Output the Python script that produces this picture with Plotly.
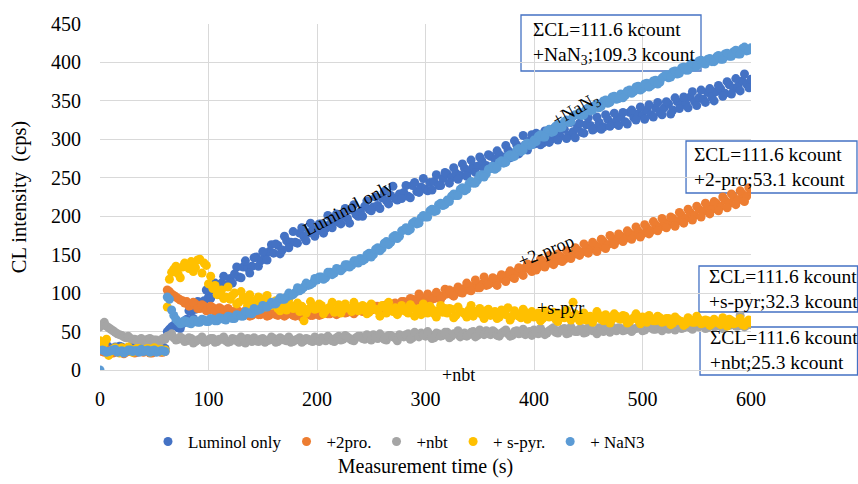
import plotly.graph_objects as go

# sample times (s): main grid and the interleaved grid
times = list(range(0, 601, 4))
times_b = list(range(2, 600, 4))

luminol = [
    31, 28, 30, 27, 29, 30, 27, 28, 30, 26,
    29, 28, 27, 29, 28, 28, 53, 58, 55, 60,
    66, 76, 79, 88, 90, 95, 104, 104, 113, 111,
    119, 125, 121, 134, 133, 135, 147, 142, 149, 154,
    152, 162, 156, 168, 166, 166, 178, 173, 178, 183,
    181, 190, 184, 190, 194, 192, 200, 197, 208, 202,
    206, 213, 209, 212, 214, 224, 220, 227, 223, 229,
    231, 226, 240, 232, 238, 235, 244, 245, 240, 249,
    255, 250, 256, 253, 262, 259, 265, 265, 272, 266,
    278, 274, 280, 277, 286, 282, 293, 286, 293, 298,
    294, 302, 295, 305, 300, 308, 304, 313, 305, 310,
    315, 309, 319, 318, 314, 322, 316, 326, 320, 325,
    329, 323, 335, 328, 333, 331, 338, 332, 341, 335,
    341, 346, 338, 349, 345, 346, 355, 349, 354, 352,
    361, 355, 362, 366, 360, 371, 366, 369, 376, 372,
    378,
]
luminol_b = [
    29, 33, 27, 30, 31, 26, 29, 32, 27, 30,
    27, 30, 28, 26, 30, 50, 56, 61, 54, 64,
    77, 67, 89, 81, 104, 93, 113, 98, 122, 109,
    113, 134, 120, 142, 126, 146, 135, 154, 143, 163,
    164, 151, 174, 159, 180, 165, 185, 168, 191, 174,
    190, 178, 201, 185, 203, 190, 210, 191, 215, 200,
    200, 220, 207, 225, 210, 232, 216, 239, 221, 223,
    240, 224, 244, 231, 249, 233, 234, 254, 240, 257,
    243, 263, 248, 268, 252, 273, 257, 277, 262, 280,
    265, 285, 273, 292, 276, 298, 281, 305, 286, 306,
    308, 293, 311, 296, 314, 299, 317, 301, 322, 302,
    321, 308, 328, 312, 329, 313, 332, 317, 334, 318,
    335, 320, 338, 325, 342, 326, 345, 329, 348, 332,
    349, 333, 354, 340, 355, 341, 362, 344, 364, 348,
    366, 350, 370, 356, 375, 359, 379, 363, 385, 367,
]

prop2 = [
    26, 23, 25, 22, 24, 25, 23, 24, 22, 25,
    23, 24, 22, 25, 23, 24, 102, 97, 93, 90,
    89, 84, 86, 80, 83, 78, 81, 76, 79, 75,
    77, 73, 76, 72, 76, 71, 74, 72, 75, 71,
    74, 71, 75, 72, 73, 70, 75, 72, 74, 71,
    74, 72, 76, 73, 75, 74, 77, 75, 78, 76,
    79, 77, 81, 80, 83, 81, 85, 83, 87, 86,
    89, 88, 92, 90, 94, 92, 95, 93, 97, 96,
    99, 98, 103, 101, 106, 104, 109, 107, 112, 110,
    115, 113, 119, 118, 124, 121, 128, 126, 133, 131,
    137, 134, 141, 138, 145, 141, 148, 144, 152, 150,
    156, 153, 160, 157, 163, 160, 167, 163, 171, 168,
    174, 171, 178, 175, 181, 177, 185, 181, 189, 186,
    192, 189, 197, 193, 201, 197, 205, 201, 209, 206,
    213, 209, 217, 213, 221, 217, 225, 221, 229, 226,
    232,
]
prop2_b = [
    24, 27, 22, 25, 26, 21, 24, 26, 23, 25,
    25, 22, 24, 26, 23, 104, 99, 95, 91, 87,
    83, 88, 80, 85, 77, 83, 76, 81, 74, 80,
    73, 78, 71, 77, 70, 76, 72, 75, 70, 76,
    72, 76, 70, 75, 71, 74, 69, 76, 71, 75,
    71, 75, 73, 77, 72, 76, 74, 78, 73, 79,
    76, 80, 78, 83, 79, 84, 82, 86, 84, 89,
    83, 93, 86, 99, 88, 99, 92, 101, 92, 105,
    104, 96, 108, 100, 113, 103, 117, 107, 121, 111,
    120, 110, 124, 115, 129, 119, 133, 123, 138, 128,
    130, 144, 134, 149, 137, 151, 141, 155, 145, 159,
    149, 164, 152, 166, 154, 170, 158, 175, 163, 177,
    167, 181, 170, 186, 173, 189, 177, 193, 181, 197,
    185, 199, 187, 205, 191, 209, 195, 213, 199, 217,
    203, 219, 207, 225, 211, 229, 215, 233, 219, 237,
]

nbt = [
    56, 62, 55, 51, 47, 45, 42, 41, 40, 39,
    38, 40, 37, 39, 38, 40, 45, 42, 40, 41,
    38, 41, 37, 40, 36, 39, 41, 37, 40, 38,
    37, 40, 36, 39, 41, 37, 38, 40, 36, 39,
    41, 37, 40, 38, 36, 39, 42, 38, 40, 37,
    39, 42, 38, 41, 37, 44, 40, 43, 39, 42,
    44, 40, 43, 46, 41, 44, 39, 45, 42, 46,
    43, 47, 42, 45, 48, 44, 46, 42, 47, 45,
    49, 44, 47, 43, 48, 46, 50, 45, 48, 51,
    46, 49, 44, 50, 47, 45, 51, 48, 46, 50,
    52, 47, 50, 48, 53, 49, 51, 54, 48, 52,
    50, 54, 49, 53, 51, 55, 50, 52, 56, 51,
    54, 52, 57, 53, 55, 51, 56, 58, 53, 55,
    57, 53, 56, 59, 54, 57, 55, 60, 56, 58,
    55, 59, 57, 61, 56, 58, 62, 57, 60, 58,
    59,
]
nbt_b = [
    59, 57, 53, 49, 46, 43, 44, 40, 38, 41,
    36, 41, 39, 36, 41, 44, 47, 39, 43, 37,
    42, 35, 39, 43, 37, 41, 36, 40, 43, 36,
    41, 38, 43, 35, 40, 42, 37, 41, 38, 43,
    36, 42, 39, 43, 37, 40, 36, 41, 38, 43,
    37, 40, 44, 38, 42, 39, 45, 41, 38, 44,
    41, 46, 39, 42, 47, 40, 45, 43, 38, 44,
    46, 40, 49, 43, 46, 50, 41, 48, 44, 49,
    42, 47, 51, 45, 44, 49, 43, 52, 46, 47,
    51, 45, 48, 52, 44, 50, 47, 53, 49, 45,
    49, 54, 46, 51, 55, 48, 53, 47, 56, 50,
    53, 48, 55, 51, 47, 54, 57, 49, 53, 55,
    51, 56, 50, 54, 59, 52, 55, 53, 57, 51,
    54, 58, 52, 56, 55, 61, 53, 57, 59, 54,
    58, 56, 60, 54, 64, 59, 57, 71, 56, 61,
]

spyr = [
    38, 35, 19, 27, 25, 29, 24, 27, 26, 28,
    25, 28, 26, 24, 27, 26, 118, 131, 125, 134,
    137, 141, 133, 144, 139, 112, 106, 98, 104, 95,
    92, 100, 88, 95, 84, 90, 86, 93, 82, 88,
    85, 80, 88, 78, 84, 81, 76, 64, 79, 83,
    80, 84, 77, 82, 75, 85, 79, 81, 76, 83,
    78, 82, 75, 80, 77, 84, 74, 79, 81, 76,
    79, 74, 81, 76, 72, 78, 83, 73, 77, 75,
    74, 79, 71, 76, 73, 78, 70, 75, 72, 77,
    71, 76, 69, 74, 81, 70, 73, 68, 75, 71,
    69, 74, 67, 72, 70, 66, 73, 68, 71, 88,
    68, 72, 65, 70, 67, 71, 64, 69, 66, 70,
    66, 70, 63, 68, 65, 69, 62, 67, 64, 68,
    63, 67, 61, 66, 63, 60, 65, 62, 66, 61,
    64, 60, 63, 59, 62, 66, 60, 63, 59, 62,
    61,
]
spyr_b = [
    33, 40, 24, 29, 22, 26, 30, 23, 28, 25,
    27, 23, 29, 26, 24, 82, 127, 135, 120, 139,
    132, 128, 143, 126, 136, 122, 110, 102, 93, 108,
    97, 86, 102, 91, 98, 82, 95, 88, 97, 84,
    90, 77, 86, 92, 80, 87, 83, 74, 89, 79,
    86, 73, 80, 88, 78, 74, 86, 80, 88, 77,
    84, 73, 86, 79, 70, 82, 88, 76, 72, 84,
    76, 85, 70, 80, 86, 74, 79, 69, 84, 80,
    80, 68, 82, 75, 69, 84, 76, 80, 67, 79,
    74, 67, 78, 72, 65, 77, 70, 79, 66, 76,
    72, 64, 77, 69, 75, 63, 71, 78, 65, 73,
    64, 74, 69, 62, 76, 66, 72, 61, 73, 67,
    71, 61, 66, 73, 60, 67, 71, 64, 70, 62,
    67, 59, 69, 64, 58, 68, 62, 70, 60, 65,
    58, 66, 61, 68, 57, 64, 61, 67, 58, 65,
]

nan3 = [
    0, 25, 24, 26, 23, 25, 24, 26, 25, 23,
    24, 26, 25, 23, 25, 24, 92, 71, 63, 61,
    63, 60, 64, 62, 65, 63, 66, 64, 67, 65,
    69, 67, 71, 70, 74, 73, 77, 79, 82, 84,
    86, 90, 92, 95, 97, 101, 103, 108, 110, 113,
    117, 121, 120, 127, 126, 131, 132, 137, 136, 142,
    145, 144, 152, 150, 159, 158, 167, 166, 175, 174,
    182, 181, 191, 190, 198, 199, 207, 206, 215, 214,
    221, 226, 227, 235, 233, 242, 243, 247, 254, 255,
    262, 261, 270, 269, 278, 277, 286, 284, 293, 292,
    299, 304, 303, 311, 309, 317, 315, 323, 322, 330,
    332, 331, 339, 337, 344, 341, 350, 347, 355, 352,
    359, 357, 364, 362, 369, 366, 373, 370, 377, 374,
    382, 380, 388, 385, 393, 390, 397, 394, 402, 399,
    404, 401, 407, 404, 411, 408, 414, 411, 418, 415,
    419,
]
nan3_b = [
    26, 23, 25, 27, 24, 22, 26, 24, 25, 27,
    25, 23, 26, 24, 25, 95, 78, 66, 60, 64,
    61, 65, 62, 66, 63, 67, 64, 68, 66, 70,
    67, 72, 70, 76, 74, 80, 78, 84, 82, 88,
    86, 94, 92, 100, 98, 107, 105, 113, 111, 119,
    121, 118, 127, 124, 132, 129, 137, 134, 142, 139,
    142, 150, 147, 157, 155, 165, 163, 173, 171, 181,
    185, 183, 193, 191, 201, 199, 209, 207, 217, 215,
    219, 229, 227, 237, 235, 245, 243, 253, 251, 261,
    265, 263, 272, 270, 280, 278, 288, 286, 295, 293,
    297, 306, 303, 313, 310, 319, 316, 325, 323, 332,
    335, 332, 341, 338, 346, 343, 351, 348, 356, 353,
    354, 363, 360, 368, 364, 372, 368, 376, 372, 380,
    384, 381, 389, 386, 394, 390, 399, 395, 403, 398,
    405, 401, 409, 404, 412, 408, 416, 411, 420, 416,
]

series_names = ["Luminol only", "+2pro.", "+nbt", "+ s-pyr.", "+ NaN3"]
series_a = [luminol, prop2, nbt, spyr, nan3]
series_b = [luminol_b, prop2_b, nbt_b, spyr_b, nan3_b]
series_colors = ["#4472C4", "#ED7D31", "#A5A5A5", "#FFC000", "#5B9BD5"]

x_ticks = [0, 100, 200, 300, 400, 500, 600]
y_ticks = [0, 50, 100, 150, 200, 250, 300, 350, 400, 450]

FONT = "Liberation Serif, Times New Roman, Times, serif"

fig = go.Figure()
for name, va, vb, col in zip(series_names, series_a, series_b, series_colors):
    fig.add_trace(go.Scatter(
        x=times + times_b, y=va + vb, mode="markers", name=name,
        marker=dict(color=col, size=9, line=dict(width=0)),
    ))

# summary boxes: (x0, x1, y0, y1) in paper units, text left x, text centre y
box_texts = [
    "ΣCL=111.6 kcount<br>+NaN<sub>3</sub>;109.3 kcount",
    "ΣCL=111.6 kcount<br>+2-pro;53.1 kcount",
    "ΣCL=111.6 kcount<br>+s-pyr;32.3 kcount",
    "ΣCL=111.6 kcount<br>+nbt;25.3 kcount",
]
box_geo = [
    (0.6467, 0.9232, 0.8642, 1.026, 0.662, 0.945),
    (0.9002, 1.1628, 0.5116, 0.6618, 0.910, 0.587),
    (0.9201, 1.1636, 0.1676, 0.3006, 0.933, 0.234),
    (0.9217, 1.1636, -0.0145, 0.1243, 0.934, 0.0564),
]
for txt, (x0, x1, y0, y1, tx, ty) in zip(box_texts, box_geo):
    fig.add_shape(type="rect", xref="paper", yref="paper", x0=x0, x1=x1, y0=y0, y1=y1,
                  line=dict(color="#4472C4", width=1.3), fillcolor="white", layer="between")
    fig.add_annotation(
        x=tx, y=ty, xref="paper", yref="paper", text=txt, showarrow=False,
        align="left", font=dict(family=FONT, size=19.5, color="#000"),
        xanchor="left", yanchor="middle",
    )

labels = [
    ("Luminol only", 0.381, 0.468, -28),
    ("+NaN<sub>3</sub>", 0.731, 0.75, -30),
    ("+2-prop", 0.685, 0.344, -22),
    ("+s-pyr", 0.708, 0.179, 0),
    ("+nbt", 0.550, -0.014, 0),
]
for txt, lx, ly, ang in labels:
    fig.add_annotation(
        x=lx, y=ly, xref="paper", yref="paper", text=txt, showarrow=False,
        textangle=ang, font=dict(family=FONT, size=18, color="#000"),
        xanchor="center", yanchor="middle",
    )

fig.update_layout(
    width=858, height=484,
    margin=dict(l=100, r=107, t=24, b=114),
    paper_bgcolor="white", plot_bgcolor="white",
    font=dict(family=FONT, size=20, color="#000"),
    showlegend=True,
    legend=dict(
        orientation="h", x=0.0737, y=-0.208, xanchor="left", yanchor="middle",
        font=dict(family=FONT, size=17, color="#000"), itemwidth=30,
        bgcolor="rgba(0,0,0,0)",
    ),
    xaxis=dict(
        range=[0, 600], tickvals=x_ticks, ticktext=[str(v) for v in x_ticks],
        showgrid=True, gridcolor="#D9D9D9", gridwidth=1, zeroline=False,
        showline=True, linecolor="#D9D9D9", linewidth=1,
        ticks="", ticklabelstandoff=11,
        tickfont=dict(family=FONT, size=20, color="#000"),
        title=dict(text="Measurement time (s)", font=dict(family=FONT, size=20, color="#000"), standoff=49),
    ),
    yaxis=dict(
        range=[0, 450], tickvals=y_ticks, ticktext=[str(v) for v in y_ticks],
        showgrid=True, gridcolor="#D9D9D9", gridwidth=1, zeroline=False,
        showline=False, ticks="", ticklabelstandoff=18,
        tickfont=dict(family=FONT, size=20, color="#000"),
        title=dict(text="CL intensity  (cps)", font=dict(family=FONT, size=20.5, color="#000"), standoff=18),
    ),
)

fig.write_html("out.html")
